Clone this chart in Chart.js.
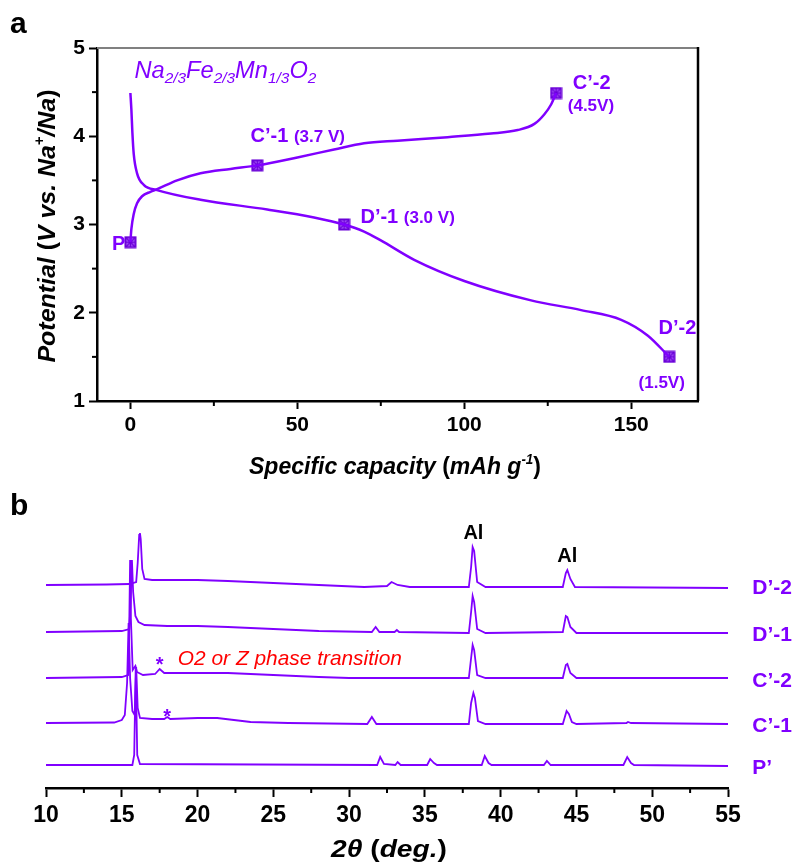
<!DOCTYPE html>
<html lang="en">
<head>
<meta charset="UTF-8" />
<title>Na2/3Fe2/3Mn1/3O2 charge/discharge and ex-situ XRD</title>
<script src="https://cdn.jsdelivr.net/npm/chart.js"></script>
<style>
  body { margin: 0; background: #fff; }
  .panel { position: absolute; left: 0; }
  #chartA { top: 0; }
  #chartB { top: 480px; }
</style>
</head>
<body>
<canvas id="chartA" class="panel" width="796" height="480"></canvas>
<canvas id="chartB" class="panel" width="796" height="384"></canvas>
<script>
// ---- panel a: first charge / discharge curve ----
const chargeCap = [0, 0.3, 1, 2, 3.5, 6, 8, 14, 21, 30, 38, 50, 61, 70, 80, 95, 108, 116, 121, 124, 126, 127.5];
const chargeV   = [2.80, 2.95, 3.12, 3.24, 3.32, 3.37, 3.40, 3.50, 3.58, 3.63, 3.67, 3.76, 3.85, 3.92, 3.95, 3.99, 4.03, 4.07, 4.14, 4.25, 4.36, 4.49];
const dischargeCap = [0, 0.3, 0.6, 1, 2, 4, 8, 21, 41, 55, 64, 70, 75, 85, 100, 120, 135, 147, 155, 161.4];
const dischargeV   = [4.49, 4.30, 4.04, 3.80, 3.58, 3.45, 3.39, 3.28, 3.17, 3.08, 3.00, 2.92, 2.82, 2.60, 2.36, 2.14, 2.03, 1.92, 1.74, 1.50];
const stateCap = [0, 38, 64, 127.5, 161.4];
const stateV   = [2.80, 3.67, 3.00, 4.49, 1.50];
const capTicks = [0, 50, 100, 150];
const capMinor = [25, 75, 125];
const vMinor = [1.5, 2.5, 3.5, 4.5];

// ---- panel b: ex-situ XRD, [2theta, intensity above own baseline] ----
const xrdNames  = ['D’-2', 'D’-1', 'C’-2', 'C’-1', 'P’'];
const xrdOffset = [203, 156, 110, 65, 23];
const xrdD2 = [[10,0],[14,0.5],[15.5,1],[15.95,3],[16.05,22],[16.15,50],[16.2,52],[16.25,46],[16.35,16],[16.5,6],[17,5],[18,5],[20,5],[22,4],[25,2],[28,0],[31,-2],[32.5,-1],[32.8,3],[33.2,0],[34,-2],[37.9,-2],[38.05,18],[38.15,38],[38.25,34],[38.45,3],[39,-2],[44.1,-2],[44.3,12],[44.4,15],[44.6,6],[44.9,-2],[55,-3]];
const xrdD1 = [[10,0],[15,1],[15.5,3],[15.6,40],[15.67,72],[15.75,40],[15.9,16],[16.1,10],[16.5,7],[18,6],[20,6],[22,5],[25,3],[28,1],[31.5,0],[31.75,5],[32,0],[33,0],[33.15,2],[33.3,0],[37.9,-1],[38.05,20],[38.15,36],[38.25,30],[38.45,3],[39,-1],[44.1,0],[44.3,16],[44.4,15],[44.6,5],[45,-1],[55,-1]];
const xrdC2 = [[10,0],[15,1],[15.42,3],[15.5,60],[15.55,118],[15.6,60],[15.72,8],[15.9,12],[16.0,6],[16.4,3],[17.2,4],[17.5,9],[17.8,5],[18.5,5],[20,5],[22,5],[25,3],[28,1],[30,0],[37.9,0],[38.05,20],[38.15,33],[38.25,28],[38.45,3],[39,0],[44.1,0],[44.3,13],[44.4,14],[44.6,5],[45,0],[55,0]];
const xrdC1 = [[10,0],[14.5,0.5],[15.0,3],[15.2,8],[15.35,40],[15.45,100],[15.55,45],[15.7,12],[15.85,8],[15.95,56],[16.05,15],[16.2,5],[17,4],[17.8,4],[18,6],[18.2,4],[20,5],[21.3,5],[23.5,1],[26,0],[31.2,-1],[31.5,6],[31.8,-1],[37.9,-1],[38.05,20],[38.2,30],[38.3,25],[38.5,2],[39,-1],[44.1,-1],[44.35,12],[44.5,9],[44.7,1],[45,-1],[48.3,0],[48.4,1],[48.6,0],[55,-1]];
const xrdP  = [[10,0],[15.7,0],[15.82,10],[15.92,98],[16.02,10],[16.2,1],[31.85,0],[32.05,8],[32.3,1],[33.05,0],[33.2,3],[33.4,0],[35.15,0],[35.35,6],[35.6,2],[35.8,0],[38.75,0],[38.95,9],[39.2,2],[39.4,0],[42.85,0],[43.05,4],[43.3,0],[48.1,0],[48.35,8],[48.6,2],[48.8,0],[55,-1]];
const xrdTraces = [xrdD2, xrdD1, xrdC2, xrdC1, xrdP];
const thetaTicksMinor = [12.5, 17.5, 22.5, 27.5, 32.5, 37.5, 42.5, 47.5, 52.5];

const purple = '#8000ff';
const FAM = '"Liberation Sans", Arial, sans-serif';
const font = (size, weight = 'bold', italic = false) => `${italic ? 'italic ' : ''}${weight} ${size}px ${FAM}`;

Chart.defaults.font.family = FAM;
Chart.defaults.color = '#000';

// text runs with per-run font and vertical shift, optionally squeezed to a width
function drawRuns(ctx, x, y, runs, align, fitWidth, color) {
  let w = 0;
  runs.forEach(r => { ctx.font = r.f; w += ctx.measureText(r.t).width; });
  const sx = fitWidth ? fitWidth / w : 1;
  ctx.save();
  ctx.translate(x, y);
  ctx.scale(sx, 1);
  ctx.textAlign = 'left';
  ctx.textBaseline = 'alphabetic';
  let cx = align === 'center' ? -w / 2 : align === 'right' ? -w : 0;
  runs.forEach(r => {
    ctx.font = r.f;
    ctx.fillStyle = r.c || color || '#000';
    ctx.fillText(r.t, cx, r.dy || 0);
    cx += ctx.measureText(r.t).width;
  });
  ctx.restore();
}

function seg(ctx, x1, y1, x2, y2) {
  ctx.beginPath(); ctx.moveTo(x1, y1); ctx.lineTo(x2, y2); ctx.stroke();
}

// crossed-square marker
const marker = document.createElement('canvas');
marker.width = 13; marker.height = 13;
(() => {
  const m = marker.getContext('2d');
  m.strokeStyle = '#6a00d8'; m.fillStyle = 'rgba(128,0,255,0.6)'; m.lineWidth = 2;
  m.fillRect(1.5, 1.5, 10, 10);
  m.strokeRect(1.5, 1.5, 10, 10);
  m.lineWidth = 1.5;
  seg(m, 1.5, 1.5, 11.5, 11.5); seg(m, 11.5, 1.5, 1.5, 11.5);
  seg(m, 6.5, 1.5, 6.5, 11.5); seg(m, 1.5, 6.5, 11.5, 6.5);
})();

const toXY = (xs, ys) => xs.map((v, i) => ({ x: v, y: ys[i] }));

const panelA = {
  id: 'panelA',
  afterDraw(chart) {
    const { ctx, chartArea: a, scales: { x, y } } = chart;
    const X = v => x.getPixelForValue(v), Y = v => y.getPixelForValue(v);
    ctx.save();
    ctx.lineCap = 'butt';
    ctx.strokeStyle = '#808080'; ctx.lineWidth = 2;
    seg(ctx, a.left, a.top, a.right, a.top);
    ctx.strokeStyle = '#000'; ctx.lineWidth = 2.5;
    seg(ctx, a.right, a.top - 1, a.right, a.bottom);
    ctx.lineWidth = 2;
    capMinor.forEach(v => seg(ctx, X(v), a.bottom, X(v), a.bottom + 5));
    vMinor.forEach(v => seg(ctx, a.left - 5, Y(v), a.left, Y(v)));

    // panel letter
    drawRuns(ctx, 10, 33, [{ t: 'a', f: font(30) }], 'left');

    // axis titles
    drawRuns(ctx, 395, 474, [
      { t: 'Specific capacity ', f: font(24, 'bold', true) },
      { t: '(', f: font(24) },
      { t: 'mAh g', f: font(24, 'bold', true) },
      { t: '-1', f: font(14, 'bold', true), dy: -10 },
      { t: ')', f: font(24) }
    ], 'center', 292);
    ctx.save();
    ctx.translate(47, 226);
    ctx.rotate(-Math.PI / 2);
    drawRuns(ctx, 0, 8, [
      { t: 'Potential ', f: font(24, 'bold', true) },
      { t: '(', f: font(24) },
      { t: 'V vs. Na', f: font(24, 'bold', true) },
      { t: '+', f: font(14), dy: -11 },
      { t: '/Na', f: font(24, 'bold', true) },
      { t: ')', f: font(24) }
    ], 'center', 273);
    ctx.restore();

    // annotations
    drawRuns(ctx, X(1.2), Y(4.66), [
      { t: 'Na', f: font(23, 'normal', true) }, { t: '2/3', f: font(15, 'normal', true), dy: 5 },
      { t: 'Fe', f: font(23, 'normal', true) }, { t: '2/3', f: font(15, 'normal', true), dy: 5 },
      { t: 'Mn', f: font(23, 'normal', true) }, { t: '1/3', f: font(15, 'normal', true), dy: 5 },
      { t: 'O', f: font(23, 'normal', true) }, { t: '2', f: font(15, 'normal', true), dy: 5 }
    ], 'left', 182, purple);
    const big = font(20), small = font(17);
    drawRuns(ctx, X(-1.5), Y(2.79) + 7, [{ t: 'P', f: big }], 'right', 0, purple);
    drawRuns(ctx, X(36), Y(4.01) + 7, [{ t: 'C’-1 ', f: big }, { t: '(3.7 V)', f: small }], 'left', 0, purple);
    drawRuns(ctx, X(68.9), Y(3.10) + 7, [{ t: 'D’-1 ', f: big }, { t: '(3.0 V)', f: small }], 'left', 0, purple);
    drawRuns(ctx, X(132.5), Y(4.61) + 7, [{ t: 'C’-2', f: big }], 'left', 0, purple);
    drawRuns(ctx, X(131), Y(4.35) + 6, [{ t: '(4.5V)', f: small }], 'left', 0, purple);
    drawRuns(ctx, X(158.2), Y(1.84) + 7, [{ t: 'D’-2', f: big }], 'left', 0, purple);
    drawRuns(ctx, X(152.2), Y(1.22) + 6, [{ t: '(1.5V)', f: small }], 'left', 0, purple);
    ctx.restore();
  }
};

new Chart(document.getElementById('chartA'), {
  type: 'scatter',
  data: {
    datasets: [
      { label: 'charge', data: toXY(chargeCap, chargeV), showLine: true, borderColor: purple, borderWidth: 2.5, pointRadius: 0, cubicInterpolationMode: 'monotone' },
      { label: 'discharge', data: toXY(dischargeCap, dischargeV), showLine: true, borderColor: purple, borderWidth: 2.5, pointRadius: 0, cubicInterpolationMode: 'monotone' },
      { label: 'states', data: toXY(stateCap, stateV), showLine: false, pointStyle: marker, pointRadius: 6 }
    ]
  },
  options: {
    responsive: false,
    animation: false,
    devicePixelRatio: 1,
    layout: { padding: { left: 0, top: 48, right: 98, bottom: 0 } },
    plugins: { legend: { display: false }, tooltip: { enabled: false } },
    scales: {
      x: {
        type: 'linear', min: -10, max: 170,
        afterBuildTicks: s => { s.ticks = capTicks.map(v => ({ value: v })); },
        afterFit: s => { s.height = 79; },
        ticks: { font: { size: 21, weight: 'bold' }, color: '#000', padding: 4 },
        grid: { drawOnChartArea: false, tickLength: 8, tickColor: '#000', tickWidth: 2 },
        border: { color: '#000', width: 2.5 }
      },
      y: {
        min: 1, max: 5,
        afterFit: s => { s.width = 97; },
        ticks: { stepSize: 1, font: { size: 21, weight: 'bold' }, color: '#000', padding: 4 },
        grid: { drawOnChartArea: false, tickLength: 8, tickColor: '#000', tickWidth: 2 },
        border: { color: '#000', width: 2.5 }
      }
    }
  },
  plugins: [panelA]
});

const panelB = {
  id: 'panelB',
  afterDraw(chart) {
    const { ctx, chartArea: a, scales: { x, y } } = chart;
    const X = v => x.getPixelForValue(v), Y = v => y.getPixelForValue(v);
    ctx.save();
    ctx.strokeStyle = '#000'; ctx.lineWidth = 2;
    thetaTicksMinor.forEach(v => seg(ctx, X(v), a.bottom, X(v), a.bottom + 5));

    drawRuns(ctx, 10, 35, [{ t: 'b', f: font(30) }], 'left');
    drawRuns(ctx, 389, 377, [
      { t: '2', f: font(24, 'bold', true) },
      { t: 'θ', f: font(24, 'bold', true) },
      { t: ' (', f: font(24) },
      { t: 'deg.', f: font(24, 'bold', true) },
      { t: ')', f: font(24) }
    ], 'center', 116);

    drawRuns(ctx, X(38.2), Y(256) + 7, [{ t: 'Al', f: font(20) }], 'center');
    drawRuns(ctx, X(44.4), Y(233) + 7, [{ t: 'Al', f: font(20) }], 'center');
    drawRuns(ctx, X(17.5), Y(127) + 10, [{ t: '*', f: font(20) }], 'center', 0, purple);
    drawRuns(ctx, X(18.0), Y(75) + 10, [{ t: '*', f: font(20) }], 'center', 0, purple);
    drawRuns(ctx, X(18.7), Y(130) + 7, [{ t: 'O2 or Z phase transition', f: font(21, 'normal', true) }], 'left', 224, '#ff0000');

    xrdNames.forEach((n, i) => {
      drawRuns(ctx, X(56.6), Y(xrdOffset[i] - 2) + 7, [{ t: n, f: font(21) }], 'left', 0, purple);
    });
    ctx.restore();
  }
};

new Chart(document.getElementById('chartB'), {
  type: 'scatter',
  data: {
    datasets: xrdTraces.map((tr, i) => ({
      label: xrdNames[i],
      data: tr.map(([t, v]) => ({ x: t, y: v + xrdOffset[i] })),
      showLine: true, borderColor: purple, borderWidth: 1.8, pointRadius: 0, tension: 0
    }))
  },
  options: {
    responsive: false,
    animation: false,
    devicePixelRatio: 1,
    layout: { padding: { left: 46, top: 40, right: 68, bottom: 0 } },
    plugins: { legend: { display: false }, tooltip: { enabled: false } },
    scales: {
      x: {
        type: 'linear', min: 10, max: 55,
        afterFit: s => { s.height = 76; },
        ticks: { stepSize: 5, font: { size: 23, weight: 'bold' }, color: '#000', padding: 5 },
        grid: { drawOnChartArea: false, tickLength: 9, tickColor: '#000', tickWidth: 2 },
        border: { color: '#000', width: 2.5 }
      },
      y: { display: false, min: 0, max: 268 }
    }
  },
  plugins: [panelB]
});
</script>
</body>
</html>
